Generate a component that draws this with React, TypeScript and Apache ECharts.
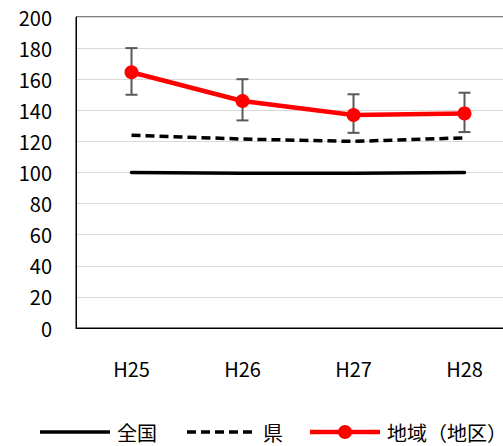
import React, { useEffect, useRef } from "react";
import * as echarts from "echarts";

const categories = ["H25", "H26", "H27", "H28"];
const zenkoku = [100, 99.5, 99.5, 100];
const ken = [124, 121.5, 120, 122.3];
const chiiki = [164.5, 146, 137, 138];
const errLow = [150, 133.5, 125.5, 126];
const errHigh = [180, 160, 150.3, 151.3];
const yTicks = { min: 0, max: 200, interval: 20 };
const seriesNames = ["全国", "県", "地域（地区）"];

const FONT = "'Noto Sans CJK JP', 'Noto Sans', sans-serif";
const CHART_W = 540;

export default function App() {
  const ref = useRef<HTMLDivElement>(null);
  useEffect(() => {
    if (!ref.current) return;
    const chart = echarts.init(ref.current, null, { renderer: "svg" });
    const errData = categories.map((_, i) => [i, errLow[i], errHigh[i]]);
    const ly = 432;
    const txt = (x: number, s: string) => ({
      type: "text",
      x,
      y: ly,
      style: { text: s, fontFamily: FONT, fontSize: 20, fill: "#000", verticalAlign: "middle" },
    });
    chart.setOption({
      animation: false,
      backgroundColor: "#fff",
      textStyle: { fontFamily: FONT },
      grid: {
        left: 76,
        top: 17,
        right: CHART_W - 520,
        bottom: 118,
        show: true,
        borderColor: "#000",
        borderWidth: 1,
      },
      graphic: [
        { type: "line", shape: { x1: 40, y1: ly, x2: 110, y2: ly }, style: { stroke: "#000", lineWidth: 3.5 } },
        txt(117, seriesNames[0]),
        { type: "line", shape: { x1: 187, y1: ly, x2: 257, y2: ly }, style: { stroke: "#000", lineWidth: 3.5, lineDash: [9, 5] } },
        txt(263, seriesNames[1]),
        { type: "line", shape: { x1: 310, y1: ly, x2: 380, y2: ly }, style: { stroke: "#ff0000", lineWidth: 4.5 } },
        { type: "circle", shape: { cx: 345, cy: ly, r: 7 }, style: { fill: "#ff0000" } },
        txt(387, seriesNames[2]),
      ],
      xAxis: {
        type: "category",
        data: categories,
        boundaryGap: true,
        axisLine: { lineStyle: { color: "#000", width: 1 } },
        axisTick: { inside: true, length: 6, lineStyle: { color: "#000" } },
        axisLabel: { margin: 30, fontSize: 20, color: "#000", fontFamily: FONT },
        splitLine: { show: false },
      },
      yAxis: {
        type: "value",
        min: yTicks.min,
        max: yTicks.max,
        interval: yTicks.interval,
        axisLine: { show: true, lineStyle: { color: "#000", width: 1 } },
        axisTick: { show: false },
        axisLabel: { margin: 24, fontSize: 20, color: "#000", fontFamily: FONT },
        splitLine: { lineStyle: { color: "#d9d9d9", width: 1 } },
      },
      series: [
        {
          name: seriesNames[0],
          type: "line",
          data: zenkoku,
          symbol: "none",
          lineStyle: { color: "#000", width: 3.5, cap: "round" },
          itemStyle: { color: "#000" },
          z: 3,
        },
        {
          name: seriesNames[1],
          type: "line",
          data: ken,
          symbol: "none",
          lineStyle: { color: "#000", width: 3.5, type: [9, 5] },
          itemStyle: { color: "#000" },
          z: 3,
        },
        {
          name: "errbar",
          type: "custom",
          data: errData,
          z: 4,
          renderItem: (params: any, api: any) => {
            const i = api.value(0);
            const lo = api.coord([i, api.value(1)]);
            const hi = api.coord([i, api.value(2)]);
            const hw = 6;
            const style = { stroke: "#595959", lineWidth: 2 };
            return {
              type: "group",
              children: [
                { type: "line", shape: { x1: lo[0], y1: lo[1], x2: hi[0], y2: hi[1] }, style },
                { type: "line", shape: { x1: lo[0] - hw, y1: lo[1], x2: lo[0] + hw, y2: lo[1] }, style },
                { type: "line", shape: { x1: hi[0] - hw, y1: hi[1], x2: hi[0] + hw, y2: hi[1] }, style },
              ],
            };
          },
        },
        {
          name: seriesNames[2],
          type: "line",
          data: chiiki,
          symbol: "circle",
          symbolSize: 14,
          lineStyle: { color: "#ff0000", width: 4.5 },
          itemStyle: { color: "#ff0000" },
          z: 5,
        },
      ],
    });
    return () => chart.dispose();
  }, []);
  return (
    <div style={{ position: "fixed", left: 0, top: 0, width: 503, height: 446, overflow: "hidden" }}>
      <div ref={ref} style={{ width: CHART_W, height: 446 }} />
    </div>
  );
}
